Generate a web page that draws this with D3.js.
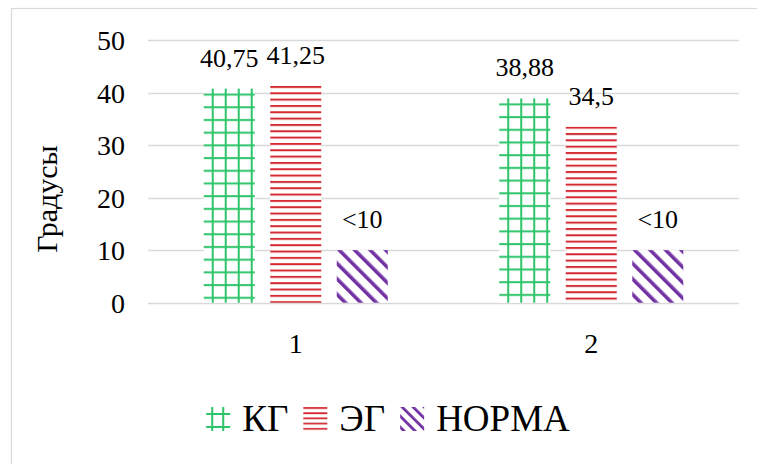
<!DOCTYPE html>
<html><head><meta charset="utf-8">
<script src="https://cdn.jsdelivr.net/npm/d3@7"></script>
<style>
html,body{margin:0;padding:0;background:#fff;}
svg{display:block;}
text{font-family:"Liberation Serif","Times New Roman",serif;fill:#000;}
</style></head>
<body>
<svg id="chart" width="757" height="464"></svg>
<script>
const categories = ["1", "2"];
const seriesNames = ["КГ", "ЭГ", "НОРМА"];
const valuesKG = [40.75, 38.88];
const valuesEG = [41.25, 33.5];
const valuesNorm = [10, 10];
const labelsKG = ["40,75", "38,88"];
const labelsEG = ["41,25", "34,5"];
const labelsNorm = ["<10", "<10"];
const yTicks = [0, 10, 20, 30, 40, 50];
const colors = ["#2ec46a", "#d42a32", "#7332a4"];

const svg = d3.select("#chart");
const W = 757, H = 464;
const m = {left: 148, right: 18, top: 40, bottom: 161};
const x0 = d3.scaleBand().domain(categories).range([m.left, W - m.right]).paddingInner(0).paddingOuter(0);
const x1 = d3.scaleBand().domain(seriesNames).range([0, x0.bandwidth()]).paddingInner(0.233).paddingOuter(0.838);
const y = d3.scaleLinear().domain([0, 50]).range([H - m.bottom - 0.3, m.top]);

// outer frame
svg.append("rect").attr("x", 11.5).attr("y", 8.5).attr("width", 800).attr("height", 500)
  .attr("fill", "none").attr("stroke", "#d9d9d9").attr("stroke-width", 1.2);

const defs = svg.append("defs");
// kind 0: grid, 1: horizontal lines, 2: wide downward diagonal
function makePattern(id, kind, ox, oy, p) {
  if (kind === 0) {
    const pat = defs.append("pattern").attr("id", id).attr("patternUnits", "userSpaceOnUse")
      .attr("width", p.sx).attr("height", p.sy).attr("x", ox).attr("y", oy);
    pat.append("rect").attr("width", p.sx).attr("height", p.sy).attr("fill", "#fff");
    pat.append("line").attr("x1", p.vx).attr("x2", p.vx).attr("y1", 0).attr("y2", p.sy).attr("stroke", colors[0]).attr("stroke-width", 2);
    pat.append("line").attr("x1", 0).attr("x2", p.sx).attr("y1", p.hy).attr("y2", p.hy).attr("stroke", colors[0]).attr("stroke-width", 2);
  } else if (kind === 1) {
    const pat = defs.append("pattern").attr("id", id).attr("patternUnits", "userSpaceOnUse")
      .attr("width", 10).attr("height", p.sy).attr("x", ox).attr("y", oy);
    pat.append("rect").attr("width", 10).attr("height", p.sy).attr("fill", "#fff");
    pat.append("line").attr("x1", 0).attr("x2", 10).attr("y1", 1).attr("y2", 1).attr("stroke", colors[1]).attr("stroke-width", p.lw);
  } else {
    const w = p.period / Math.SQRT2;
    const pat = defs.append("pattern").attr("id", id).attr("patternUnits", "userSpaceOnUse")
      .attr("width", w).attr("height", w)
      .attr("patternTransform", `translate(${ox},${oy}) rotate(-45)`);
    pat.append("rect").attr("width", w).attr("height", w).attr("fill", "#fff");
    pat.append("rect").attr("x", 0).attr("y", 0).attr("width", p.sw).attr("height", w).attr("fill", colors[2]);
  }
}
const barParams = [
  {sx: 13, sy: 12.7, vx: 9, hy: 6},
  {sy: 6.33, lw: 2},
  {period: 15.5, sw: 3.6}
];
const iconParams = [
  {sx: 11, sy: 13, vx: 6, hy: 7},
  {sy: 5.2, lw: 1.8},
  {period: 11, sw: 2.8}
];

// gridlines
svg.append("g").selectAll("line").data(yTicks).join("line")
  .attr("x1", m.left).attr("x2", W - m.right)
  .attr("y1", d => Math.round(y(d)) + 0.5).attr("y2", d => Math.round(y(d)) + 0.5)
  .attr("stroke", "#d9d9d9").attr("stroke-width", 1.3);

// y axis labels
const yAxis = d3.axisLeft(y).tickValues(yTicks).tickSize(0).tickPadding(0).tickFormat(d3.format("d"));
const gy = svg.append("g").attr("transform", `translate(${m.left - 23},0)`).call(yAxis);
gy.select(".domain").remove();
gy.attr("font-family", null);
gy.selectAll("text").attr("font-family", "Liberation Serif").attr("font-size", 28).attr("fill", "#000").attr("dy", "0.35em");

// x axis labels
const xAxis = d3.axisBottom(x0).tickSize(0).tickPadding(0);
const gx = svg.append("g").attr("transform", `translate(0,${y(0)})`).call(xAxis);
gx.select(".domain").remove();
gx.attr("font-family", null);
gx.selectAll("text").attr("font-family", "Liberation Serif").attr("font-size", 28).attr("fill", "#000").attr("dy", 0).attr("y", 50);

// bars
const seriesVals = [valuesKG, valuesEG, valuesNorm];
const seriesLabels = [labelsKG, labelsEG, labelsNorm];
const barsData = [];
categories.forEach((c, ci) => seriesNames.forEach((s, si) => barsData.push({c, ci, s, si, v: seriesVals[si][ci], lab: seriesLabels[si][ci]})));

barsData.forEach(d => {
  d.x = x0(d.c) + x1(d.s);
  d.pid = `bp${d.ci}_${d.si}`;
  makePattern(d.pid, d.si, d.x, y(d.v), barParams[d.si]);
});

svg.append("g").selectAll("rect").data(barsData).join("rect")
  .attr("x", d => d.x).attr("width", x1.bandwidth())
  .attr("y", d => y(d.v)).attr("height", d => y(0) - y(d.v))
  .attr("fill", d => `url(#${d.pid})`);

svg.append("g").selectAll("text").data(barsData).join("text")
  .attr("x", d => d.x + x1.bandwidth() / 2)
  .attr("y", d => y(d.v) - 22)
  .attr("text-anchor", "middle").attr("font-size", 26).text(d => d.lab);

// y title
svg.append("text").attr("transform", `translate(57,199) rotate(-90)`)
  .attr("text-anchor", "middle").attr("font-size", 30).text("Градусы");

// legend
const leg = svg.append("g");
const iconSize = 24, gapText = 12, gapItem = 15;
const tw = [];
seriesNames.forEach((s) => {
  const t = leg.append("text").attr("font-size", 37).text(s);
  tw.push(t.node().getComputedTextLength());
  t.remove();
});
const totalW = tw.reduce((a, b) => a + b, 0) + seriesNames.length * (iconSize + gapText) + (seriesNames.length - 1) * gapItem;
let lx = 388 - totalW / 2;
seriesNames.forEach((s, i) => {
  const pid = `lp${i}`;
  makePattern(pid, i, lx, 407, iconParams[i]);
  leg.append("rect").attr("x", lx).attr("y", 407).attr("width", iconSize).attr("height", iconSize)
    .attr("fill", `url(#${pid})`);
  leg.append("text").attr("x", lx + iconSize + gapText).attr("y", 431).attr("font-size", 37).text(s);
  lx += iconSize + gapText + tw[i] + gapItem;
});
</script>
</body></html>
